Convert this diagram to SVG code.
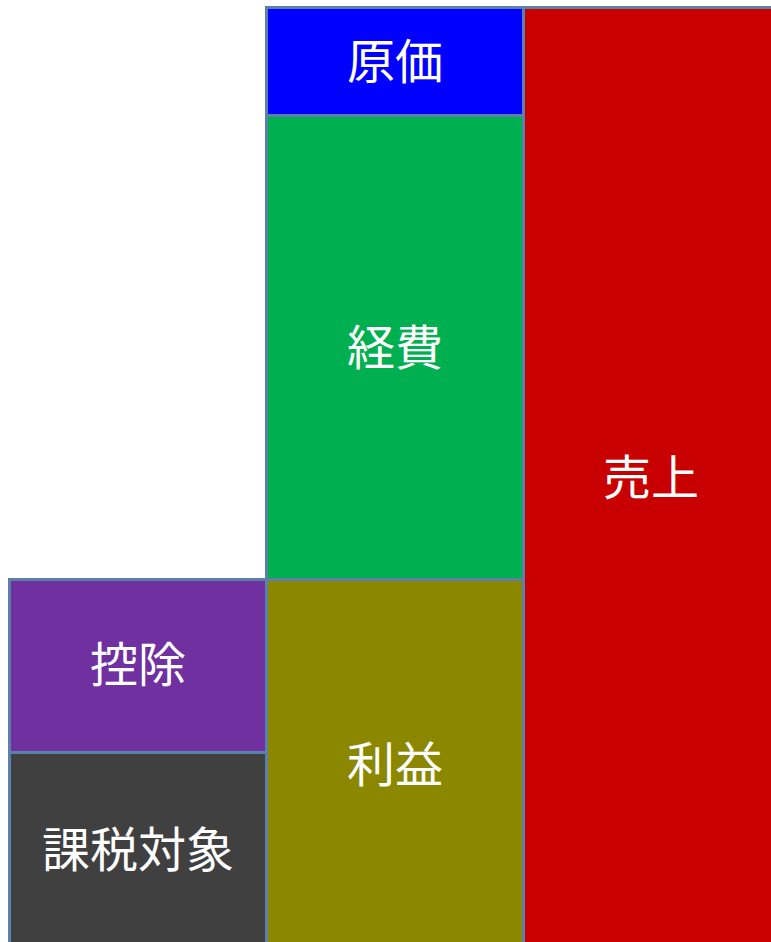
<svg xmlns="http://www.w3.org/2000/svg" width="771" height="942" viewBox="0 0 771 942">
<style>
.box{stroke:#5b80aa;stroke-width:3}
.t{fill:#ffffff;font-family:"Noto Sans CJK JP","Noto Sans CJK SC",sans-serif;font-size:48px;text-anchor:middle;dominant-baseline:central}
</style>
<rect width="771" height="942" fill="#ffffff"/>
<g id="uriage"><rect class="box" x="523.5" y="7.5" width="257" height="950" fill="#c80000"/><text class="t" x="651" y="474">売上</text></g>
<g id="genka"><rect class="box" x="266.5" y="7.5" width="257" height="108" fill="#0000ff"/><text class="t" x="395" y="58">原価</text></g>
<g id="keihi"><rect class="box" x="266.5" y="115.5" width="257" height="464" fill="#00b050"/><text class="t" x="395" y="344">経費</text></g>
<g id="rieki"><rect class="box" x="266.5" y="579.5" width="257" height="380" fill="#8b8800"/><text class="t" x="395" y="761">利益</text></g>
<g id="koujo"><rect class="box" x="9.5" y="579.5" width="257" height="173" fill="#7030a0"/><text class="t" x="138" y="661">控除</text></g>
<g id="kazei"><rect class="box" x="9.5" y="752.5" width="257" height="207" fill="#404040"/><text class="t" x="138" y="846">課税対象</text></g>
<g id="connectors"></g>
</svg>
